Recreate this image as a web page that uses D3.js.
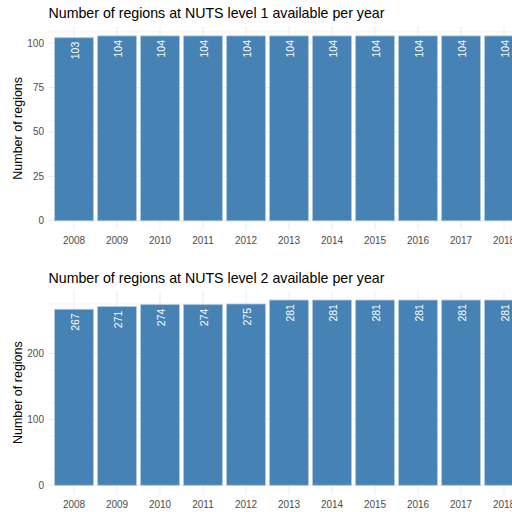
<!DOCTYPE html>
<html>
<head>
<meta charset="utf-8">
<script src="https://cdn.jsdelivr.net/npm/d3@7"></script>
<style>
  body { margin: 0; background: #fff; overflow: hidden; }
  svg { font-family: "Liberation Sans", Arial, sans-serif; display: block; }
</style>
</head>
<body>
<script>
// years and counts
var years = ["2008", "2009", "2010", "2011", "2012", "2013", "2014", "2015", "2016", "2017", "2018"];
var nuts1 = [103, 104, 104, 104, 104, 104, 104, 104, 104, 104, 104];
var nuts2 = [267, 271, 274, 274, 275, 281, 281, 281, 281, 281, 281];
var ticks1 = [0, 25, 50, 75, 100];
var ticks2 = [0, 100, 200];

var svg = d3.select("body").append("svg")
    .attr("width", 512)
    .attr("height", 512);

drawPanel({
  top: 26.7, bottom: 230, titleY: 18,
  title: "Number of regions at NUTS level 1 available per year",
  values: nuts1, ticks: ticks1, minorStep: 12.5
});
drawPanel({
  top: 290.8, bottom: 494.5, titleY: 282.5,
  title: "Number of regions at NUTS level 2 available per year",
  values: nuts2, ticks: ticks2, minorStep: 50
});

function drawPanel(p) {
  var left = 48.2;
  var step = 43;
  // band scale: centres sit 0.6 steps from the panel edge, like ggplot
  var x = d3.scaleBand()
      .domain(years)
      .range([left, left + step * (years.length + 0.2)])
      .paddingInner(0.1)
      .paddingOuter(0.15);

  var maxV = d3.max(p.values);
  var y = d3.scaleLinear()
      .domain([-maxV * 0.05, maxV * 1.05])
      .range([p.bottom, p.top]);

  var g = svg.append("g");

  // minor grid
  var minor = d3.range(p.minorStep / 2, maxV * 1.05, p.minorStep)
      .filter(function(v) { return p.ticks.indexOf(v) < 0; });
  g.selectAll(".minor")
      .data(minor)
      .enter().append("line")
      .attr("x1", left).attr("x2", 512)
      .attr("y1", function(d) { return y(d); })
      .attr("y2", function(d) { return y(d); })
      .attr("stroke", "#ebebeb")
      .attr("stroke-width", 0.5);

  // major grid
  g.selectAll(".major")
      .data(p.ticks)
      .enter().append("line")
      .attr("x1", left).attr("x2", 512)
      .attr("y1", function(d) { return y(d); })
      .attr("y2", function(d) { return y(d); })
      .attr("stroke", "#ebebeb")
      .attr("stroke-width", 1);

  g.selectAll(".vgrid")
      .data(years)
      .enter().append("line")
      .attr("x1", function(d) { return x(d) + x.bandwidth() / 2; })
      .attr("x2", function(d) { return x(d) + x.bandwidth() / 2; })
      .attr("y1", p.top).attr("y2", p.bottom)
      .attr("stroke", "#ebebeb")
      .attr("stroke-width", 1);

  // bars
  g.selectAll(".bar")
      .data(p.values)
      .enter().append("rect")
      .attr("x", function(d, i) { return x(years[i]); })
      .attr("width", x.bandwidth())
      .attr("y", function(d) { return y(d); })
      .attr("height", function(d) { return y(0) - y(d); })
      .attr("fill", "#4682b4")
      .attr("stroke", "#a9c3da")
      .attr("stroke-width", 0.8);

  // value labels
  g.selectAll(".lab")
      .data(p.values)
      .enter().append("text")
      .attr("transform", function(d, i) {
        return "translate(" + (x(years[i]) + x.bandwidth() / 2 + 1) + "," + (y(d) + 4) + ") rotate(-90)";
      })
      .attr("dy", "0.35em")
      .style("text-anchor", "end")
      .attr("fill", "#fff")
      .attr("font-size", "10.5px")
      .text(function(d) { return d; });

  // y tick labels
  g.selectAll(".ytick")
      .data(p.ticks)
      .enter().append("text")
      .attr("x", 44)
      .attr("y", function(d) { return y(d); })
      .attr("dy", "0.35em")
      .style("text-anchor", "end")
      .attr("fill", "#4d4d4d")
      .attr("font-size", "10px")
      .text(function(d) { return d; });

  // x tick labels
  g.selectAll(".xtick")
      .data(years)
      .enter().append("text")
      .attr("x", function(d) { return x(d) + x.bandwidth() / 2; })
      .attr("y", p.bottom + 10)
      .attr("dy", "0.35em")
      .style("text-anchor", "middle")
      .attr("fill", "#4d4d4d")
      .attr("font-size", "10px")
      .text(function(d) { return d; });

  // axis title
  g.append("text")
      .attr("transform", "translate(22," + ((p.top + p.bottom) / 2) + ") rotate(-90)")
      .style("text-anchor", "middle")
      .attr("fill", "#000")
      .attr("font-size", "12.5px")
      .text("Number of regions");

  // panel title
  g.append("text")
      .attr("x", 48.5)
      .attr("y", p.titleY)
      .attr("fill", "#000")
      .attr("font-size", "14.2px")
      .text(p.title);
}
</script>
</body>
</html>
